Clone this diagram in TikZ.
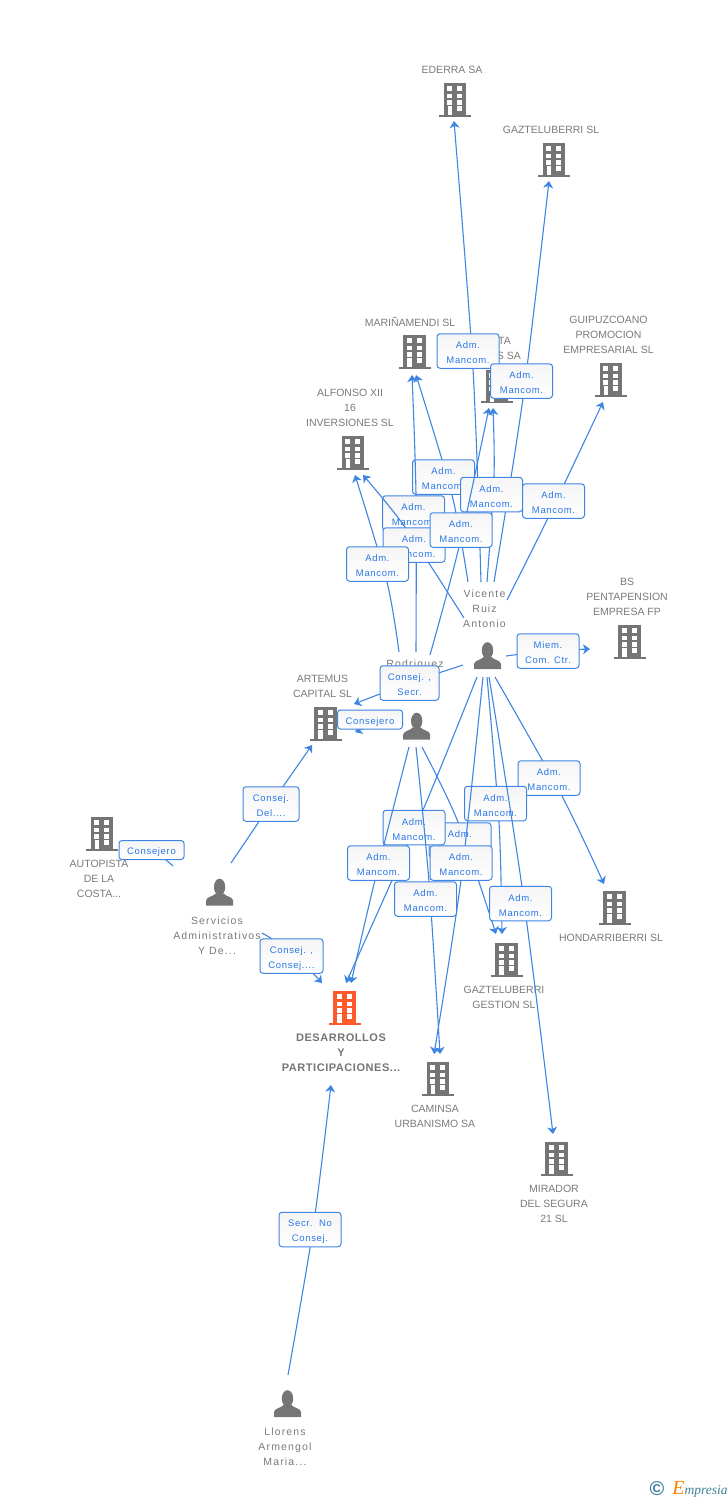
\documentclass[tikz,border=0pt]{standalone}
\usepackage{fontspec}
\setmainfont{Liberation Sans}
\newfontfamily\namefont[LetterSpace=11]{Liberation Sans}
\newfontfamily\rolefont[LetterSpace=7]{Liberation Sans}
\newfontfamily\mainfirmfont[LetterSpace=5]{Liberation Sans}
\newfontfamily\logofont{Liberation Serif}
\usetikzlibrary{arrows.meta}

\definecolor{iconGrey}{HTML}{757575}
\definecolor{iconOrange}{HTML}{FF5A2B}
\definecolor{nameGrey}{HTML}{7A7A7A}
\definecolor{linkBlue}{HTML}{3F86E2}
\definecolor{roleBlue}{HTML}{2A78E6}
\definecolor{logoTeal}{HTML}{3F7F95}

\tikzset{
    building/.pic={
        \fill[pic actions] (-11.2,-17) rectangle (11.2,15);
        \fill[pic actions] (-16,14.5) rectangle (16,16.5);
        \foreach \ya/\yb in {-14/-9,-6.5/-2,0/4.7} {
            \fill[white] (-7.8,\ya) rectangle (-2.6,\yb);
            \fill[white] (2,\ya) rectangle (7.2,\yb);
        }
        \fill[white] (-7.3,6) rectangle (-3,15);
        \fill[white] (2,6) rectangle (7.2,11);
    },
    person/.pic={
        \fill[pic actions] (0,-5.5) ellipse (5.7 and 8.3);
        \fill[pic actions] (-13.5,13) -- (-13.5,8) .. controls (-13,4) and (-6,4) .. (-4,1)
            -- (4,1) .. controls (6,4) and (13,4) .. (13.5,8) -- (13.5,13) -- cycle;
    },
    firm/.style={text=nameGrey, align=center, inner sep=0pt, yshift=-0.8pt,
        font=\fontsize{10.5}{15}\selectfont},
    firmmain/.style={firm, text=iconGrey, font=\fontsize{11}{15}\mainfirmfont\bfseries},
    who/.style={firm, font=\fontsize{10.5}{15}\namefont},
    link/.style={draw=linkBlue, line width=1.1pt,
        -{Stealth[length=7pt,width=10pt,inset=2pt]}},
    role/.style={draw=linkBlue, line width=1pt, rounded corners=3pt, text=roleBlue,
        top color=black!4, bottom color=white, align=center, inner sep=0pt,
        minimum width=62pt, minimum height=34.5pt,
        font=\fontsize{9.5}{15}\rolefont},
    roleflat/.style={minimum width=65pt, minimum height=19pt},
}

% box options, name, start, point on the way, end, box position, box text
\newcommand{\linkbox}[7][]{
    \coordinate (#2a) at #3;
    \coordinate (#2b) at #4;
    \coordinate (#2c) at #5;
    \draw[link] plot[smooth] coordinates {(#2a) (#2b) (#2c)};
    \node[role, #1] (#2) at #6 {\rule{0pt}{11pt}#7};
}

\begin{document}
\begin{tikzpicture}[x=1pt, y=-1pt]
    \useasboundingbox (0,0) rectangle (728,1500);

    % Companies
    \foreach \nm/\x/\y in {ederra/455/100, gazteSL/554/160, marina/414.5/352, hidden/497/386.5,
        guipuz/611/380, alfonso/353/453, pentap/629.5/642, artemus/325.5/724, autopista/102/834,
        hondar/614.5/908, gestion/506.5/960, caminsa/438/1079, mirador/556.5/1159} {
        \pic[fill=iconGrey] (\nm) at (\x,\y) {building};
    }
    \pic[fill=iconOrange] (desarrollos) at (344.5,1008) {building};

    % People
    \foreach \nm/\x/\y in {vicente/487.5/656, rodriguez/416.7/726.5, servicios/219.6/892.5, llorens/287.5/1404} {
        \pic[fill=iconGrey] (\nm) at (\x,\y) {person};
    }

    % Names
    \node[firm] (ederraT) at (452,69) {EDERRA SA};
    \node[firm] (gazteSLT) at (551,129) {GAZTELUBERRI SL};
    \node[firm] (marinaT) at (410,321) {MARIÑAMENDI SL};
    \node[firm, anchor=east] (hiddenA) at (511,340) {TA};
    \node[firm, anchor=east] (hiddenB) at (521,355) {S SA};
    \node[firm] (guipuzT) at (608.5,334) {GUIPUZCOANO\\PROMOCION\\EMPRESARIAL SL};
    \node[firm] (alfonsoT) at (350,407) {ALFONSO XII\\16\\INVERSIONES SL};
    \node[firm] (pentapT) at (627,596) {BS\\PENTAPENSION\\EMPRESA FP};
    \node[firm] (artemusT) at (322.5,685.5) {ARTEMUS\\CAPITAL SL};
    \node[firm] (autopistaT) at (99,878) {AUTOPISTA\\DE LA\\COSTA...};
    \node[firm] (hondarT) at (611,937) {HONDARRIBERRI SL};
    \node[firm] (gestionT) at (504,996.5) {GAZTELUBERRI\\GESTION SL};
    \node[firm] (caminsaT) at (435,1115.5) {CAMINSA\\URBANISMO SA};
    \node[firm] (miradorT) at (554,1203) {MIRADOR\\DEL SEGURA\\21 SL};
    \node[firmmain] (desarrollosT) at (341,1052) {DESARROLLOS\\Y\\PARTICIPACIONES...};
    \node[who] (vicenteT) at (484.5,608) {Vicente\\Ruiz\\Antonio};
    \node[who] (rodriguezT) at (415,664) {Rodriguez};
    \node[who] (serviciosT) at (217,935) {Servicios\\Administrativos\\Y De...};
    \node[who] (llorensT) at (285,1446) {Llorens\\Armengol\\Maria...};

    % Links going up
    \linkbox{admA}{(468,582)}{(452,495)}{(416,375)}{(443.5,477)}{Adm.\\Mancom.}
    \linkbox{admB}{(481,582)}{(473,369)}{(454,121)}{(468,351)}{Adm.\\Mancom.}
    \linkbox{admC}{(494,582)}{(523,398)}{(549,181)}{(521.5,381)}{Adm.\\Mancom.}
    \linkbox{admD}{(487,582)}{(494,477)}{(493,408)}{(491.5,494.5)}{Adm.\\Mancom.}
    \linkbox{admE}{(507,600)}{(548,518)}{(603,402)}{(553.5,501)}{Adm.\\Mancom.}
    \linkbox{admF}{(416,652)}{(416,495)}{(412,375)}{(413.5,513)}{Adm.\\Mancom.}
    \linkbox{admG}{(464,618)}{(405,527)}{(363,475)}{(414,545)}{Adm.\\Mancom.}
    \linkbox{admH}{(430,655)}{(459,547)}{(489,408)}{(461,530)}{Adm.\\Mancom.}
    \linkbox{admI}{(399,652)}{(387,582)}{(355,475)}{(377.5,564)}{Adm.\\Mancom.}

    % Links to the sides
    \linkbox[minimum width=59pt]{consejA}{(463,665)}{(409,683)}{(354,704)}{(409.5,683)}{Consej. ,\\Secr.}
    \linkbox[roleflat]{consejB}{(396,724)}{(370,727)}{(355,732)}{(370,719.5)}{Consejero}
    \linkbox{miem}{(506,656)}{(548,651)}{(590,649)}{(548,651)}{Miem.\\Com. Ctr.}

    % Links going down
    \linkbox{admJ}{(495,677)}{(562,796)}{(604,884)}{(549,778)}{Adm.\\Mancom.}
    \linkbox{admK}{(487,677)}{(499,822)}{(502,934)}{(495.5,803.5)}{Adm.\\Mancom.}
    \linkbox{admL}{(422,747)}{(458,822)}{(496,934)}{(460,840)}{Adm.\\Mancom.}
    \linkbox{admM}{(477,677)}{(423,810)}{(346,983)}{(414,827.5)}{Adm.\\Mancom.}
    \linkbox{admN}{(483,677)}{(461,880)}{(434,1054)}{(461,863)}{Adm.\\Mancom.}
    \linkbox{admO}{(409,747)}{(375,880)}{(351,983)}{(378.5,863)}{Adm.\\Mancom.}
    \linkbox{admP}{(416,747)}{(429,882)}{(440,1054)}{(425.5,899)}{Adm.\\Mancom.}
    \linkbox{admQ}{(489,677)}{(522,887)}{(553,1134)}{(520.5,903.5)}{Adm.\\Mancom.}

    % Links of the lower left people
    \linkbox[minimum width=56pt]{consejC}{(231,863)}{(271,804)}{(312,745)}{(271,804)}{Consej.\\Del....}
    \linkbox[roleflat]{consejD}{(173,866)}{(150,848)}{(130,845)}{(151.5,850)}{Consejero}
    \linkbox[minimum width=63pt]{consejE}{(262,933)}{(292,952)}{(322,983)}{(291.5,956)}{Consej. ,\\Consej....}
    \linkbox{secr}{(288,1375)}{(313,1229)}{(331,1085)}{(310,1229.5)}{Secr.\ \ No\\Consej.}

    % Logo
    \node[inner sep=0pt, text=logoTeal, font=\fontsize{20}{20}\selectfont\bfseries] (logoA) at (657,1489) {©};
    \node[inner sep=0pt, text=logoTeal, font=\fontsize{13.5}{13.5}\logofont\itshape] (logoB) at (700,1489)
        {\textcolor{orange}{\fontsize{20}{20}\selectfont E}mpresia};
\end{tikzpicture}
\end{document}
